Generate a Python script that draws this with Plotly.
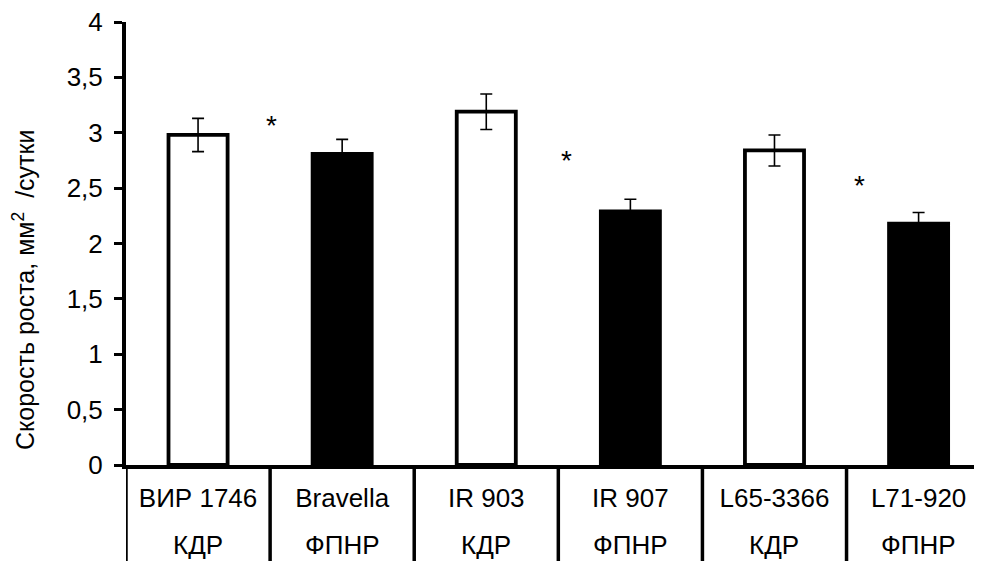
import plotly.graph_objects as go

varieties = ["ВИР 1746", "Bravella", "IR 903", "IR 907", "L65-3366", "L71-920"]
groups = ["КДР", "ФПНР", "КДР", "ФПНР", "КДР", "ФПНР"]
growth_rate = [2.98, 2.81, 3.19, 2.29, 2.84, 2.18]
errors = [0.15, 0.13, 0.16, 0.11, 0.14, 0.10]
star_x = [0.51, 2.56, 4.59]
star_y = [3.09, 2.78, 2.55]

y_ticks = [0, 0.5, 1, 1.5, 2, 2.5, 3, 3.5, 4]
y_title = "Скорость роста, мм<sup>2</sup>\u00a0 /сутки"

fill = ["white" if g == "КДР" else "black" for g in groups]
xpos = list(range(len(varieties)))

FONT = "Liberation Sans, Arial, sans-serif"

fig = go.Figure()
fig.add_trace(go.Bar(
    x=xpos, y=growth_rate, width=0.41,
    marker=dict(color=fill, line=dict(color="black", width=3.8)),
    error_y=dict(type="data", array=errors, color="black", thickness=1.6, width=6),
    showlegend=False,
))

annotations = []
for xi, g in zip(xpos, groups):
    annotations.append(dict(x=xi, y=0, xref="x", yref="y", text=g, showarrow=False,
                            yanchor="middle", yshift=-80, font=dict(size=26, color="black", family=FONT)))
for sx, sy in zip(star_x, star_y):
    annotations.append(dict(x=sx, y=sy, xref="x", yref="y", text="*", showarrow=False,
                            yanchor="middle", yshift=-3, font=dict(size=28, color="black", family=FONT)))
# y-axis title (sits lower than the plot centre in the original)
annotations.append(dict(x=0, y=0.395, xref="paper", yref="paper", text=y_title, textangle=-90,
                        showarrow=False, xanchor="center", yanchor="middle", xshift=-102,
                        font=dict(size=25, color="black", family=FONT)))

shapes = []
for xi in xpos:
    shapes.append(dict(type="line", xref="x", yref="paper", x0=xi - 0.5, x1=xi - 0.5,
                       y0=0, y1=-0.25, line=dict(color="black", width=3.5)))

# the page adds an 8px body margin, so the figure is sized/offset to compensate
fig.update_layout(
    width=974, height=553,
    margin=dict(l=118, r=0, t=14, b=96),
    plot_bgcolor="white", paper_bgcolor="white",
    separators=", ",
    font=dict(family=FONT, color="black", size=26),
    xaxis=dict(
        range=[-0.5, 5.44], tickmode="array", tickvals=xpos, ticktext=varieties,
        showline=True, linecolor="black", linewidth=4, ticks="", showgrid=False,
        zeroline=False, tickfont=dict(size=26), ticklabelstandoff=7,
    ),
    yaxis=dict(
        range=[0, 4], tickvals=y_ticks, showline=True, linecolor="black", linewidth=4,
        ticks="outside", ticklen=8, tickwidth=3, tickcolor="black", showgrid=False,
        zeroline=False, tickfont=dict(size=26), ticklabelstandoff=6,
        ticklabeloverflow="allow",
    ),
    annotations=annotations,
    shapes=shapes,
)

fig.write_html("out.html")
